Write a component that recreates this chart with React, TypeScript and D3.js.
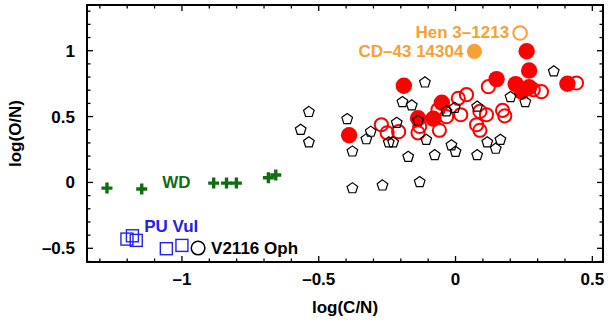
import React from "react";
import * as d3 from "d3";

// log(C/N), log(O/N) pairs for each object group
const pneX = [-0.536, -0.566, -0.536, -0.396, -0.377, -0.377, -0.267, -0.131, -0.112, -0.194, -0.16, -0.326, -0.31, -0.244, -0.228, -0.215, -0.173, -0.137, -0.107, -0.076, -0.033, -0.003, -0.015, 0.0, 0.079, 0.079, 0.116, 0.147, 0.164, 0.201, 0.255, 0.359];
const pneY = [0.535, 0.4, 0.305, 0.481, 0.235, -0.044, -0.023, 0.003, 0.759, 0.61, 0.585, 0.328, 0.385, 0.304, 0.304, 0.453, 0.195, 0.468, 0.324, 0.207, 0.539, 0.567, 0.282, 0.233, 0.575, 0.207, 0.305, 0.256, 0.324, 0.648, 0.61, 0.843];

const openX = [-0.271, -0.25, -0.208, -0.137, -0.131, -0.059, -0.064, -0.033, 0.01, 0.04, 0.019, 0.089, 0.113, 0.077, 0.089, 0.172, 0.18, 0.12, 0.284, 0.314, 0.442];
const openY = [0.438, 0.377, 0.385, 0.377, 0.425, 0.396, 0.552, 0.499, 0.639, 0.666, 0.514, 0.539, 0.514, 0.438, 0.396, 0.547, 0.506, 0.727, 0.704, 0.689, 0.755];

const filledX = [-0.389, -0.189, -0.05, -0.137, -0.081, 0.15, 0.22, 0.269, 0.242, 0.26, 0.269, 0.409];
const filledY = [0.358, 0.734, 0.605, 0.487, 0.484, 0.784, 0.746, 0.723, 0.689, 0.996, 0.85, 0.749];

const wdX = [-1.274, -1.147, -0.884, -0.837, -0.801, -0.684, -0.657];
const wdY = [-0.043, -0.05, -0.005, -0.005, -0.005, 0.036, 0.056];

const puVulX = [-1.201, -1.181, -1.167, -1.057, -1.0];
const puVulY = [-0.43, -0.405, -0.44, -0.503, -0.478];

const v2116 = { x: -0.941, y: -0.498 };
const cd43 = { x: 0.069, y: 0.995 };
const hen3 = { x: 0.236, y: 1.134 };

const xMajor = [-1, -0.5, 0, 0.5];
const yMajor = [-0.5, 0, 0.5, 1];
const xTickLabels = ["–1", "–0.5", "0", "0.5"];
const yTickLabels = ["–0.5", "0", "0.5", "1"];

const W = 608;
const H = 323;
const left = 87, right = 603, top = 5, bottom = 262;

const x = d3.scaleLinear().domain([-1.347, 0.539]).range([left, right]);
const y = d3.scaleLinear().domain([-0.604, 1.347]).range([bottom, top]);

const xMinor = d3.range(-13, 6).map((i) => i / 10);
const yMinor = d3.range(-6, 14).map((i) => i / 10);

const FONT = "'Liberation Sans', Arial, Helvetica, sans-serif";
const RED = "#ff0000";
const GREEN = "#0f6e0f";
const BLUE = "#2121f0";
const ORANGE = "#f7a135";

function pentagon(cx: number, cy: number, r: number) {
  const pts = d3.range(5).map((i) => {
    const a = -Math.PI / 2 + (i * 2 * Math.PI) / 5;
    return [cx + r * Math.cos(a), cy + r * Math.sin(a)] as [number, number];
  });
  return d3.line()(pts) + "Z";
}

function cross(cx: number, cy: number, s: number) {
  return `M${cx - s},${cy}H${cx + s}M${cx},${cy - s}V${cy + s}`;
}

export default function App() {
  const isMajor = (v: number, arr: number[]) => arr.some((m) => Math.abs(m - v) < 1e-6);
  return (
    <svg width={W} height={H} style={{ position: "absolute", left: 0, top: 0, background: "#fff" }} fontFamily={FONT} fontWeight="bold">
      {/* ticks, inward on all four sides */}
      <g stroke="#000" strokeWidth={1.3}>
        {xMinor.map((v) => {
          const len = isMajor(v, xMajor) ? 6 : 3.5;
          const px = x(v);
          return (
            <g key={"xt" + v}>
              <line x1={px} x2={px} y1={bottom} y2={bottom - len} />
              <line x1={px} x2={px} y1={top} y2={top + len} />
            </g>
          );
        })}
        {yMinor.map((v) => {
          const len = isMajor(v, yMajor) ? 6 : 3.5;
          const py = y(v);
          return (
            <g key={"yt" + v}>
              <line x1={left} x2={left + len} y1={py} y2={py} />
              <line x1={right} x2={right - len} y1={py} y2={py} />
            </g>
          );
        })}
      </g>

      {/* WD crosses */}
      <g stroke={GREEN} strokeWidth={3.4} fill="none">
        {wdX.map((v, i) => (
          <path key={"wd" + i} d={cross(x(v), y(wdY[i]), 5.5)} />
        ))}
      </g>

      {/* PU Vul squares */}
      <g stroke={BLUE} strokeWidth={1.4} fill="none">
        {puVulX.map((v, i) => (
          <rect key={"pu" + i} x={x(v) - 6} y={y(puVulY[i]) - 6} width={12} height={12} />
        ))}
      </g>

      {/* V2116 Oph */}
      <circle cx={x(v2116.x)} cy={y(v2116.y)} r={6.8} fill="none" stroke="#000" strokeWidth={1.5} />

      {/* filled red circles */}
      <g fill={RED}>
        {filledX.map((v, i) => (
          <circle key={"f" + i} cx={x(v)} cy={y(filledY[i])} r={8.2} />
        ))}
      </g>

      {/* open red circles */}
      <g fill="none" stroke={RED} strokeWidth={2}>
        {openX.map((v, i) => (
          <circle key={"o" + i} cx={x(v)} cy={y(openY[i])} r={6.6} />
        ))}
      </g>

      {/* pentagons */}
      <g fill="none" stroke="#000" strokeWidth={1.2}>
        {pneX.map((v, i) => (
          <path key={"p" + i} d={pentagon(x(v), y(pneY[i]), 5.6)} />
        ))}
      </g>

      {/* orange stars */}
      <circle cx={x(cd43.x)} cy={y(cd43.y)} r={7.6} fill={ORANGE} />
      <circle cx={x(hen3.x)} cy={y(hen3.y)} r={6.8} fill="none" stroke={ORANGE} strokeWidth={2} />

      {/* labels */}
      <g fontSize={17}>
        <text x={x(cd43.x) - 11} y={y(cd43.y)} dy="0.35em" textAnchor="end" fill={ORANGE}>CD–43 14304</text>
        <text x={x(hen3.x) - 11} y={y(hen3.y) - 1.5} dy="0.35em" textAnchor="end" fill={ORANGE}>Hen 3–1213</text>
        <text x={x(-1.072)} y={y(0)} dy="0.35em" fill={GREEN}>WD</text>
        <text x={x(-1.138)} y={y(-0.33)} dy="0.35em" fill={BLUE}>PU Vul</text>
        <text x={x(v2116.x) + 13} y={y(v2116.y)} dy="0.35em" fill="#000">V2116 Oph</text>
      </g>

      {/* frame */}
      <rect x={left} y={top} width={right - left} height={bottom - top} fill="none" stroke="#000" strokeWidth={2} />

      {/* tick labels */}
      <g fontSize={17} fill="#000">
        {xMajor.map((v, i) => (
          <text key={"xl" + v} x={x(v)} y={285} textAnchor="middle">{xTickLabels[i]}</text>
        ))}
        {yMajor.map((v, i) => (
          <text key={"yl" + v} x={75} y={y(v)} dy="0.35em" textAnchor="end">{yTickLabels[i]}</text>
        ))}
      </g>

      {/* axis titles */}
      <g fontSize={17} fill="#000">
        <text x={(left + right) / 2} y={313} textAnchor="middle">log(C/N)</text>
        <text transform={`translate(21,${(top + bottom) / 2}) rotate(-90)`} textAnchor="middle">log(O/N)</text>
      </g>
    </svg>
  );
}
